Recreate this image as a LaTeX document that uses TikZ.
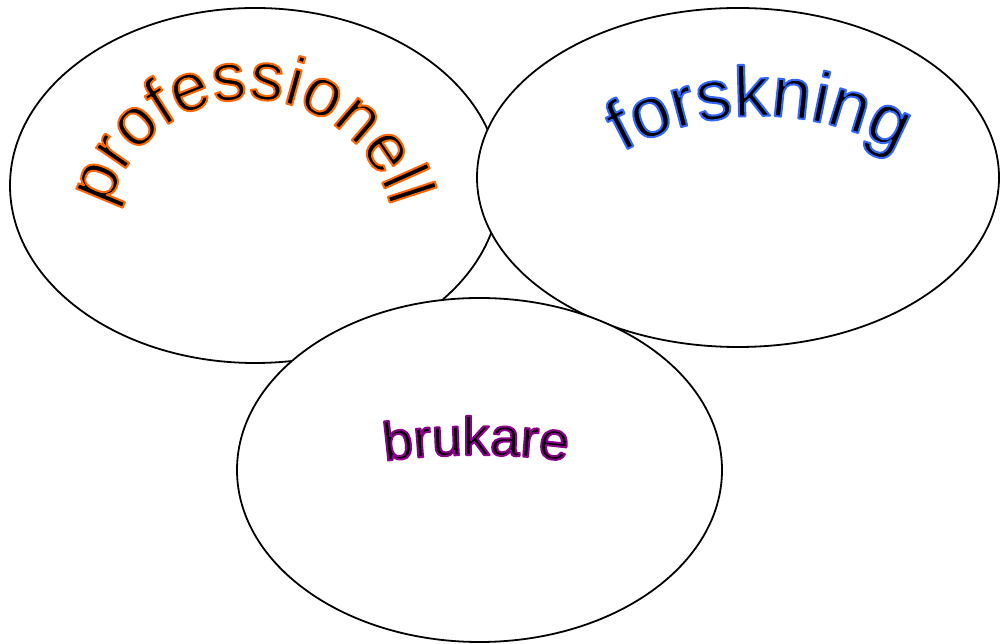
\documentclass[tikz,border=0pt]{standalone}
\usepackage{fontspec}
\setmainfont{Liberation Sans}
\usetikzlibrary{shapes.geometric,decorations.text}
% outlined text: fill black, stroke in the given rgb colour (PDF text render mode 2)
\newcommand\outlinergb[1]{\special{pdf:literal direct #1 RG 2 Tr 2.0 w 1 j}}
\tikzset{
  bubble/.style={ellipse, draw=black, fill=white, line width=1.8pt, inner sep=0pt, outer sep=0pt},
  arctext/.style 2 args={decorate, decoration={text along path, text align=center, text={|#1|#2}}}
}
\begin{document}
\begin{tikzpicture}[x=1pt,y=1pt]
\useasboundingbox (0,0) rectangle (1000,644);
% ellipses (drawn in stacking order, each filled white)
\node[bubble, minimum width=490pt, minimum height=355pt] (prof) at (255,458.5) {};
\node[bubble, minimum width=522pt, minimum height=339pt] (fors) at (738,466.5) {};
\node[bubble, minimum width=485pt, minimum height=344pt] (bruk) at (479.5,174) {};
% professionell
\path[arctext={\fontsize{68}{68}\selectfont\color{black}\outlinergb{1 0.4 0}}{professionell}]
    (250,399) ++(180:146) arc[start angle=180, end angle=0, radius=146];
% forskning
\path[arctext={\fontsize{71}{71}\selectfont\color{black}\outlinergb{0.2 0.4 1}}{forskning}]
    (760,246) ++(180:282) arc[start angle=180, end angle=0, radius=282];
% brukare
\path[arctext={\fontsize{54}{54}\selectfont\color{black}\outlinergb{0.55 0 0.55}}{brukare}]
    (476,-511) ++(110:700) arc[start angle=110, end angle=70, radius=700];
\end{tikzpicture}
\end{document}
